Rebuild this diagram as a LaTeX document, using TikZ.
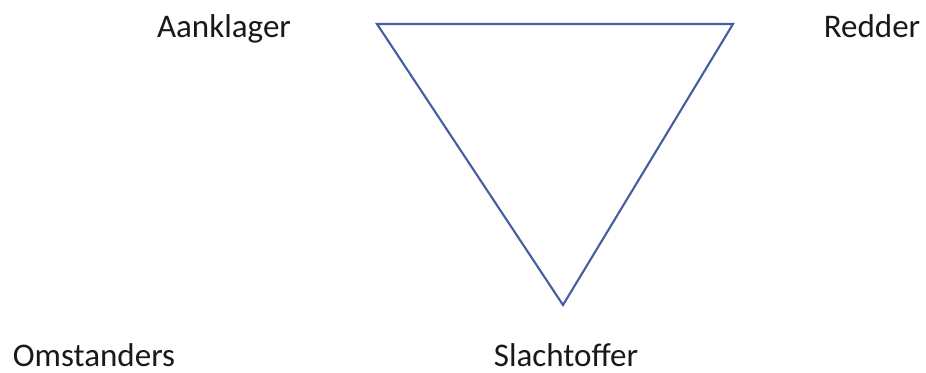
\documentclass[tikz,border=0pt]{standalone}
\usepackage{fontspec}
\setmainfont{Carlito}
\usepackage{xcolor}
\usepackage{tikz}
\usetikzlibrary{positioning}

\definecolor{lijnblauw}{RGB}{68,94,160}

\begin{document}
\begin{tikzpicture}[x=0.02cm, y=-0.02cm, font=\fontsize{18.8}{22}\selectfont,
    rol/.style={anchor=base, inner sep=0pt, text=black!90}]

    % Rahmen (Bildgroesse)
    \useasboundingbox (0,0) rectangle (926,372);

    % --- Dramadriehoek ---
    \coordinate (linksboven) at (377,24);
    \coordinate (rechtsboven) at (733,24);
    \coordinate (onder) at (563,305);
    \draw[lijnblauw, line width=1.2pt, line join=miter]
        (linksboven) -- (rechtsboven) -- (onder) -- cycle;

    % Rollen
    \node[rol] (aanklager) at (224,37) {Aanklager};
    \node[rol] (redder) at (872,37) {Redder};
    \node[rol] (omstanders) at (94,366) {Omstanders};
    \node[rol] (slachtoffer) at (566,366) {Slachtoffer};

\end{tikzpicture}
\end{document}
